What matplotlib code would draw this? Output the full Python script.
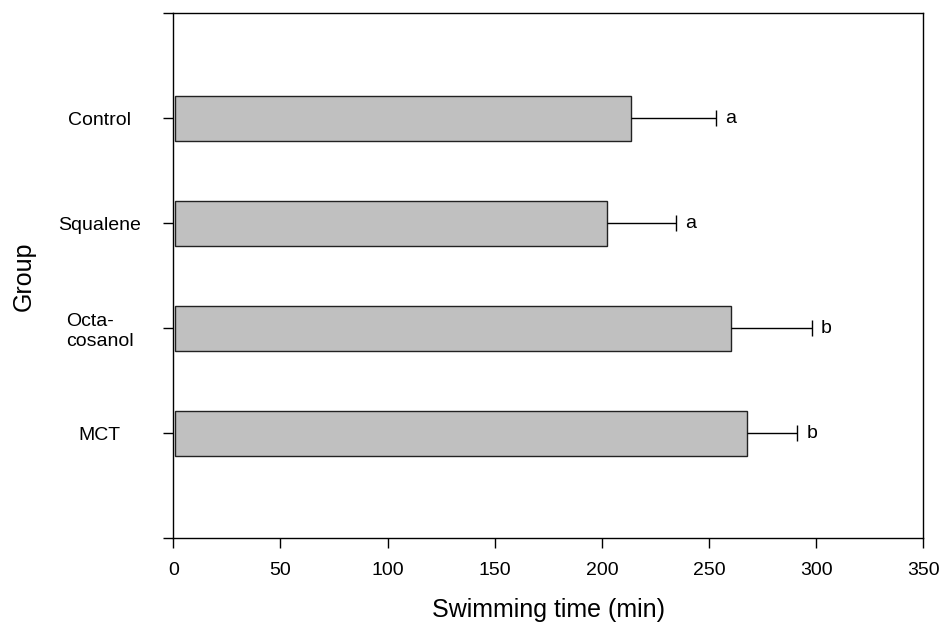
import matplotlib
matplotlib.use("Agg")
import matplotlib.pyplot as plt
import numpy as np

plt.rcParams['font.family'] = ['Liberation Sans', 'DejaVu Sans']

groups = ["Control", "Squalene", "Octa-\ncosanol", "MCT"]
means = [213.6, 202.3, 260.3, 267.6]
errors = [39.6, 32.3, 37.6, 23.6]
letters = ["a", "a", "b", "b"]
xticks = [0, 50, 100, 150, 200, 250, 300, 350]

fig = plt.figure(figsize=(9.45, 6.29), dpi=100)
ax = fig.add_axes([0.1834, 0.1442, 0.7937, 0.8347])

pos = np.arange(1, len(groups) + 1)
means_a = np.array(means)
errors_a = np.array(errors)
ax.barh(pos, means_a - 1.0, left=1.0, height=0.43, color="#c0c0c0",
        edgecolor="#222222", linewidth=1.0)
ax.hlines(pos, means_a, means_a + errors_a, color="black", linewidth=1.0)
ax.plot(means_a + errors_a, pos, linestyle="none", marker="|", markersize=11.5,
        markeredgewidth=1.0, color="black")
for m, e, p, l in zip(means, errors, pos, letters):
    ax.annotate(l, xy=(m + e, p), xytext=(6.5, 0), textcoords="offset points",
                ha="left", va="center", fontsize=14)

ax.set_xlim(0, 350)
ax.set_ylim(5, 0)
ax.set_xticks(xticks)
ax.set_xticklabels([str(t) for t in xticks])
ax.set_yticks([0] + list(pos) + [5])
ax.set_yticklabels([""] + groups + [""], ha="center", multialignment="left")
ax.tick_params(axis="y", length=7, width=1.0, pad=46, labelsize=14)
ax.tick_params(axis="x", length=7, width=1.0, pad=10, labelsize=14)
for s in ax.spines.values():
    s.set_linewidth(1.0)

ax.set_xlabel("Swimming time (min)", fontsize=18)
ax.set_ylabel("Group", fontsize=18)
ax.xaxis.set_label_coords(0.5, -0.114)
ax.yaxis.set_label_coords(-0.183, 0.5)

fig.savefig("out.png", dpi=100)
